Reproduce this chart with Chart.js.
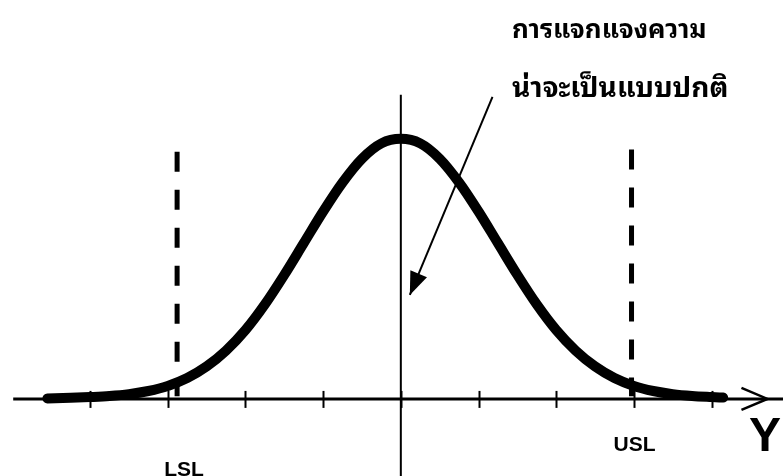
<!DOCTYPE html>
<html>
<head>
<meta charset="utf-8">
<script src="https://cdn.jsdelivr.net/npm/chart.js@4.4.1/dist/chart.umd.min.js"></script>
<style>
    html, body { margin: 0; padding: 0; background: #fff; }
    #wrap { width: 783px; height: 476px; position: relative; }
</style>
</head>
<body>
<div id="wrap"><canvas id="normalChart"></canvas></div>
<script>
// Normal curve in standard units (peak scaled to 1)
const curveX = [-4.55, -4.25, -4, -3.75, -3.5, -3.25, -3, -2.75, -2.5, -2.25, -2, -1.75, -1.5, -1.25, -1, -0.75, -0.5, -0.25,
    0, 0.25, 0.5, 0.75, 1, 1.25, 1.5, 1.75, 2, 2.25, 2.5, 2.75, 3, 3.25, 3.5, 3.75, 4, 4.15];
const curveY = [0.002, 0.004, 0.007, 0.011, 0.018, 0.03, 0.049, 0.079, 0.123, 0.183, 0.261, 0.358, 0.47, 0.59, 0.71, 0.82, 0.91, 0.968,
    0.985, 0.968, 0.91, 0.82, 0.71, 0.59, 0.47, 0.358, 0.261, 0.183, 0.123, 0.079, 0.049, 0.03, 0.018, 0.011, 0.007, 0.005];

// Tick marks on the Y axis
const tickValues = [-4, -3, -2, -1, 0, 1, 2, 3, 4];

// Specification limits
const specLabels = ['LSL', 'USL'];
const specValues = [-2.88, 2.97];

const axisLabel = 'Y';
const noteLines = ['การแจกแจงความ', 'น่าจะเป็นแบบปกติ'];

// Ranges
const xMin = -5.16, xMax = 4.92;
const yMin = -0.292, yMax = 1.511;

// Note arrow: from the text down to the curve
const noteFrom = { x: 1.18, y: 1.144 };
const noteTo = { x: 0.116, y: 0.394 };

const ctx = document.getElementById('normalChart').getContext('2d');

function toPoints(xs, ys) {
    return xs.map((x, i) => ({ x: x, y: ys[i] }));
}

const thaiFont = '"Noto Sans Thai Looped", "Noto Serif Thai", "Noto Sans Thai", Loma, Garuda, sans-serif';

// Draws ticks, arrowheads and the text labels on top of the datasets
const overlayPlugin = {
    id: 'overlay',
    afterDatasetsDraw(chart) {
        const c = chart.ctx;
        const sx = chart.scales.x;
        const sy = chart.scales.y;
        const y0 = sy.getPixelForValue(0);

        c.save();
        c.strokeStyle = '#000';
        c.fillStyle = '#000';

        // ticks crossing the axis
        c.lineWidth = 2;
        tickValues.forEach(v => {
            const px = Math.round(sx.getPixelForValue(v)) + 0.5;
            c.beginPath();
            c.moveTo(px, y0 - 8);
            c.lineTo(px, y0 + 9);
            c.stroke();
        });

        // open arrowhead near the end of the axis
        const tip = sx.getPixelForValue(4.72);
        c.lineWidth = 2.5;
        c.beginPath();
        c.moveTo(tip - 26, y0 - 11);
        c.lineTo(tip, y0);
        c.lineTo(tip - 26, y0 + 11);
        c.stroke();

        // filled head of the note arrow
        const ax1 = sx.getPixelForValue(noteFrom.x), ay1 = sy.getPixelForValue(noteFrom.y);
        const ax2 = sx.getPixelForValue(noteTo.x), ay2 = sy.getPixelForValue(noteTo.y);
        const ang = Math.atan2(ay2 - ay1, ax2 - ax1);
        const len = 23, half = 9;
        c.beginPath();
        c.moveTo(ax2, ay2);
        c.lineTo(ax2 - len * Math.cos(ang) + half * Math.sin(ang), ay2 - len * Math.sin(ang) - half * Math.cos(ang));
        c.lineTo(ax2 - len * Math.cos(ang) - half * Math.sin(ang), ay2 - len * Math.sin(ang) + half * Math.cos(ang));
        c.closePath();
        c.fill();

        // spec limit labels
        c.textAlign = 'center';
        c.textBaseline = 'alphabetic';
        c.font = 'bold 21px "Liberation Sans", Arial, sans-serif';
        c.fillText(specLabels[0], sx.getPixelForValue(specValues[0]) + 7, 476);
        c.fillText(specLabels[1], sx.getPixelForValue(specValues[1]) + 3, 451);

        // axis name
        c.font = 'bold 48px "Liberation Sans", Arial, sans-serif';
        c.fillText(axisLabel, 765, 451);

        // note text
        c.textAlign = 'left';
        c.font = 'bold 26px ' + thaiFont;
        c.fillText(noteLines[0], 512, 38);
        c.font = 'bold 28px ' + thaiFont;
        c.fillText(noteLines[1], 512, 97);
        c.restore();
    }
};

const chart = new Chart(ctx, {
    type: 'scatter',
    data: {
        datasets: [
            {
                label: 'normal',
                data: toPoints(curveX, curveY),
                showLine: true,
                borderColor: '#000',
                borderWidth: 10,
                pointRadius: 0,
                cubicInterpolationMode: 'monotone',
                borderCapStyle: 'round',
                order: 0
            },
            {
                label: 'axis',
                data: [{ x: -4.99, y: 0 }, { x: xMax, y: 0 }],
                showLine: true,
                borderColor: '#000',
                borderWidth: 3,
                pointRadius: 0,
                order: 2
            },
            {
                label: 'mean',
                data: [{ x: 0, y: 1.152 }, { x: 0, y: yMin }],
                showLine: true,
                borderColor: '#000',
                borderWidth: 2,
                pointRadius: 0,
                order: 2
            },
            {
                label: specLabels[0],
                data: [{ x: specValues[0], y: 0.936 }, { x: specValues[0], y: 0.01 }],
                showLine: true,
                borderColor: '#000',
                borderWidth: 5,
                borderDash: [20, 18],
                pointRadius: 0,
                order: 1
            },
            {
                label: specLabels[1],
                data: [{ x: specValues[1], y: 0.945 }, { x: specValues[1], y: 0.01 }],
                showLine: true,
                borderColor: '#000',
                borderWidth: 5,
                borderDash: [20, 18],
                pointRadius: 0,
                order: 1
            },
            {
                label: 'note',
                data: [noteFrom, noteTo],
                showLine: true,
                borderColor: '#000',
                borderWidth: 2,
                pointRadius: 0,
                order: 1
            }
        ]
    },
    options: {
        responsive: true,
        maintainAspectRatio: false,
        animation: false,
        layout: { padding: 0 },
        plugins: {
            legend: { display: false },
            tooltip: { enabled: false }
        },
        scales: {
            x: { type: 'linear', min: xMin, max: xMax, display: false },
            y: { type: 'linear', min: yMin, max: yMax, display: false }
        }
    },
    plugins: [overlayPlugin]
});
</script>
</body>
</html>
